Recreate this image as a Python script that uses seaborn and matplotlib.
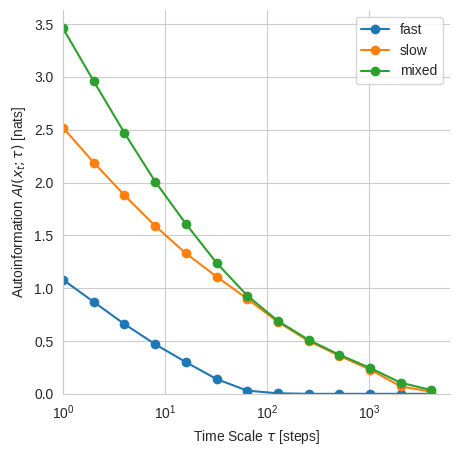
import numpy as np
import pandas as pd
import matplotlib
matplotlib.use("Agg")
import matplotlib.pyplot as plt
import seaborn as sns

tau = [1, 2, 4, 8, 16, 32, 64, 128, 256, 512, 1024, 2048, 4096]
fast = [1.08, 0.87, 0.66, 0.47, 0.30, 0.14, 0.03, 0.005, 0.0, 0.0, 0.0, 0.0, 0.0]
slow = [2.52, 2.19, 1.88, 1.59, 1.33, 1.11, 0.90, 0.68, 0.50, 0.36, 0.23, 0.07, 0.02]
mixed = [3.46, 2.96, 2.47, 2.01, 1.61, 1.24, 0.93, 0.69, 0.51, 0.37, 0.245, 0.105, 0.035]

df = pd.DataFrame({
    "tau": tau * 3,
    "ai": fast + slow + mixed,
    "signal": ["fast"] * len(tau) + ["slow"] * len(tau) + ["mixed"] * len(tau),
})

sns.set_style("whitegrid")
plt.rcParams["font.family"] = ["Liberation Sans", "DejaVu Sans"]
fig, ax = plt.subplots(figsize=(4.6, 4.59), dpi=100)

sns.lineplot(data=df, x="tau", y="ai", hue="signal", marker="o", markersize=7,
             markeredgewidth=0, ax=ax)
ax.set_xscale("log")
ax.set_xlim(left=1)
ax.set_ylim(bottom=0)
ax.set_xlabel(r"Time Scale $\tau$ [steps]")
ax.set_ylabel(r"Autoinformation $AI(x_t;\tau)$ [nats]")
ax.legend(title=None, loc="upper right")
sns.despine()

fig.subplots_adjust(left=0.137, right=0.978, top=0.978, bottom=0.142)
plt.savefig("out.png", dpi=100)
